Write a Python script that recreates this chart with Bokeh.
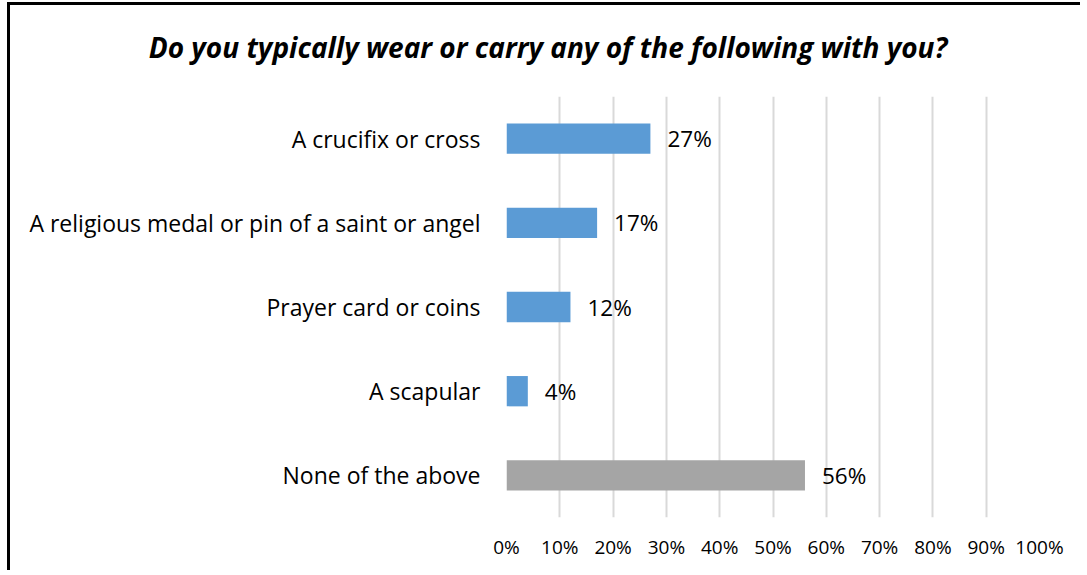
from bokeh.plotting import figure
from bokeh.models import Range1d, FactorRange, ColumnDataSource, NumeralTickFormatter, FixedTicker, Div
from bokeh.layouts import column
from bokeh.core.properties import value
from bokeh.embed import file_html
from bokeh.resources import INLINE

title_text = "Do you typically wear or carry any of the following with you?"
categories = ["A crucifix or cross", "A religious medal or pin of a saint or angel",
              "Prayer card or coins", "A scapular", "None of the above"]
values = [0.27, 0.17, 0.12, 0.04, 0.56]
labels = ["27%", "17%", "12%", "4%", "56%"]
colors = ["#5B9BD5", "#5B9BD5", "#5B9BD5", "#5B9BD5", "#A5A5A5"]
ticks = [i / 10 for i in range(11)]

FONT = "Open Sans"

src = ColumnDataSource(dict(cat=categories, val=values, lab=labels, col=colors))

title_div = Div(text=title_text, width=1070, height=90, margin=(0, 0, 0, 0),
                styles={"font-family": FONT, "font-size": "28px", "font-weight": "bold",
                        "font-style": "italic", "text-align": "center", "line-height": "84px",
                        "text-indent": "6px", "color": "#000000", "white-space": "nowrap"})

p = figure(width=1070, height=475, output_backend="svg", toolbar_location=None, title=None,
           y_range=FactorRange(*reversed(categories)), x_range=Range1d(0, 1),
           min_border_left=496, min_border_right=41, min_border_top=1, min_border_bottom=53)

p.hbar(y="cat", right="val", left=0, height=0.36, fill_color="col", line_color=None, source=src)
p.text(x="val", y="cat", text="lab", source=src, x_offset=17, text_baseline="middle",
       text_align="left", text_font=value(FONT), text_font_size="22.5px", text_color="#000000")

p.xaxis.ticker = FixedTicker(ticks=ticks)
p.xaxis.formatter = NumeralTickFormatter(format="0%")
for ax in (p.xaxis, p.yaxis):
    ax.axis_line_color = None
    ax.major_tick_line_color = None
    ax.minor_tick_line_color = None
    ax.major_label_text_font = FONT
    ax.major_label_text_color = "#000000"
p.xaxis.major_label_text_font_size = "19px"
p.yaxis.major_label_text_font_size = "23px"
p.xaxis.major_label_standoff = 10
p.yaxis.major_label_standoff = 20

p.xgrid.grid_line_color = "#D9D9D9"
p.xgrid.grid_line_width = 2
p.ygrid.grid_line_color = None
p.outline_line_color = None

layout = column(title_div, p, spacing=0,
                styles={"border-left": "3px solid black", "border-top": "3px solid black",
                        "margin-left": "7px", "margin-top": "2px"})

open("out.html", "w").write(file_html(layout, INLINE))
